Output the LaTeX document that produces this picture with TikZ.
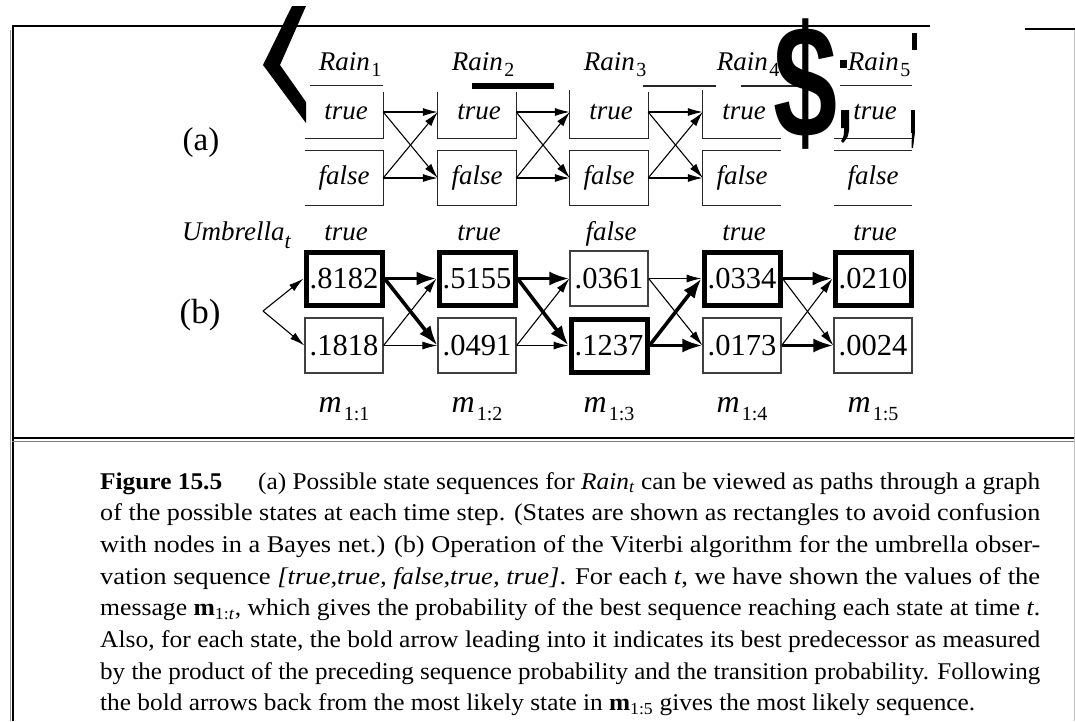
\documentclass[tikz,border=0pt]{standalone}
\usepackage{fontspec}
\setmainfont{Liberation Serif}
\newfontfamily\artfont{Liberation Sans}
\usetikzlibrary{arrows.meta}
\newcommand\lsub[1]{\hspace{1.5pt}\raisebox{-6pt}{\fontsize{20}{20}\selectfont\upshape #1}}
\newcommand\msub[1]{{\fontsize{32}{34}\selectfont\itshape m}\hspace{2pt}\raisebox{-8pt}{\fontsize{20}{20}\selectfont\upshape #1}}
\newcommand\capfont{\fontsize{24}{28}\selectfont}
\tikzset{
  lab/.style={inner sep=0pt, font=\fontsize{27}{30}\selectfont\itshape},
  abox/.style={minimum width=78pt, minimum height=52pt, inner sep=0pt, font=\fontsize{27}{30}\selectfont\itshape},
  aboxf/.style={abox, minimum height=54pt},
  edge/.style={line width=1.1pt, black!85},
  nbox/.style={draw=black!75, line width=1.2pt, minimum width=78pt, minimum height=55pt, inner sep=0pt, font=\fontsize{30.5}{33}\selectfont},
  kbox/.style={nbox, draw=black, line width=5pt, minimum width=76pt, minimum height=53pt},
  tarr/.style={-{Latex[length=15pt,width=8pt]}, line width=1.1pt},
  karr/.style={-{Latex[length=20pt,width=14pt]}, line width=3.6pt},
  capline/.style={anchor=base west, inner sep=0pt, font=\capfont},
}
\begin{document}
\begin{tikzpicture}[x=1pt,y=-1pt]
\useasboundingbox (0,0) rectangle (1075,721);
% frame
\draw[line width=1.8pt] (12,26) -- (930,26);
\draw[line width=1.6pt] (1025,29) -- (1075,29);
\draw[line width=2pt] (13,26) -- (13,721);
\draw[line width=0.8pt, black!40] (10,30) -- (10,721);
\draw[line width=2pt] (12,437.5) -- (1075,437.5);
\draw[line width=1pt, black!50] (12,441.5) -- (1075,441.5);
\draw[line width=1pt, black!25] (1074,30) -- (1074,721);

% row labels
\node[inner sep=0pt, font=\fontsize{33}{36}\selectfont] (la) at (201,143) {(a)};
\node[inner sep=0pt, font=\fontsize{35}{38}\selectfont] (lb) at (200,315) {(b)};

% part (a)
\foreach \i/\c in {1/344,2/477,3/609,4/742,5/873}{
  \node[lab, anchor=base] (r\i) at (\c+6,70) {Rain\lsub{\i}};
  \node[abox] (a\i t) at (\c,112) {\hspace{4pt}true};
  \node[aboxf] (a\i f) at (\c,178) {false};
}
\draw[edge] ([xshift=5pt]a1t.north west) -- (a1t.north east);
\draw[edge] ([yshift=-6pt]a1t.north east) -- (a1t.south east) -- (a1t.south west);
\draw[edge] (a1f.north west) -- (a1f.north east) -- (a1f.south east) -- (a1f.south west);
\draw[edge] ([yshift=-6pt]a2t.north west) -- (a2t.south west) -- (a2t.south east) -- ([yshift=-6pt]a2t.north east);
\draw[edge] (a2f.north west) rectangle (a2f.south east);
\draw[edge] ([yshift=-4pt]a3t.north west) -- (a3t.south west) -- (a3t.south east) -- ([yshift=-6pt]a3t.north east);
\draw[edge] (a3f.north west) rectangle (a3f.south east);
\draw[edge] ([yshift=-4pt]a4t.north west) -- (a4t.south west) -- (a4t.south east);
\draw[edge] (a4f.north east) -- (a4f.north west) -- (a4f.south west) -- (a4f.south east);
\draw[edge] ([xshift=6pt]a5t.north west) -- (a5t.north east);
\draw[edge] (a5t.south west) -- (a5t.south east);
\draw[edge] (a5f.north west) -- (a5f.north east);
\draw[edge] (a5f.south west) -- (a5f.south east);
\draw[edge] (643,86) -- (716,86);
\draw[edge] (741,86) -- (812,86);
\foreach \i/\j in {1/2,2/3,3/4}{
  \draw[tarr] (a\i t.east) -- (a\j t.west);
  \draw[tarr] (a\i t.east) -- (a\j f.west);
  \draw[tarr] (a\i f.east) -- (a\j t.west);
  \draw[tarr] (a\i f.east) -- (a\j f.west);
}

% scan artifacts
\fill (292,6) -- (306,6) -- (280,65) -- (306,102) -- (306,123) -- (263,65) -- cycle;
\fill (472,83) rectangle (554,89);
\node[inner sep=0pt] (dollar) at (806,84) {\scalebox{0.72}[1]{\artfont\bfseries\fontsize{160}{160}\selectfont\$}};
\fill (840,60) rectangle (847,68);
\fill (912,33) rectangle (917,50);
\fill (841,110) -- (849,110) -- (849,130) .. controls (848,137) .. (843,143) -- (841,141) .. controls (844,136) .. (844,128) -- (841,128) -- cycle;
\fill (911,110) rectangle (915,133);
\fill (912,132) -- (915,132) -- (913,148) -- (911.5,148) -- cycle;

% part (b)
\node[lab, anchor=base west] (umb) at (182,240) {Umbrella\raisebox{-8pt}{\fontsize{22}{22}\selectfont t}};
\foreach \i/\c/\o in {1/344/true,2/477/true,3/609/false,4/742/true,5/873/true}{
  \node[lab, anchor=base] (u\i) at (\c+2,240) {\o};
  \node[inner sep=0pt, anchor=base] (m\i) at (\c,412) {\msub{1:\i}};
}
\node[kbox] (b1t) at (344,278.5) {.8182};
\node[nbox] (b1f) at (344,345.5) {.1818};
\node[kbox] (b2t) at (477,278.5) {.5155};
\node[nbox] (b2f) at (477,345.5) {.0491};
\node[nbox] (b3t) at (609,278.5) {.0361};
\node[kbox] (b3f) at (609,345.5) {.1237};
\node[kbox] (b4t) at (742,278.5) {.0334};
\node[nbox] (b4f) at (742,345.5) {.0173};
\node[kbox] (b5t) at (873,278.5) {.0210};
\node[nbox] (b5f) at (873,345.5) {.0024};
\coordinate (fork) at (263,311);
\draw[tarr] (fork) -- (b1t.west);
\draw[tarr] (fork) -- (b1f.west);
% 1 -> 2
\draw[karr] (b1t.east) -- (b2t.west);
\draw[karr] (b1t.east) -- (b2f.west);
\draw[tarr] (b1f.east) -- (b2t.west);
\draw[tarr] (b1f.east) -- (b2f.west);
% 2 -> 3
\draw[karr] (b2t.east) -- (b3t.west);
\draw[karr] (b2t.east) -- (b3f.west);
\draw[tarr] (b2f.east) -- (b3t.west);
\draw[tarr] (b2f.east) -- (b3f.west);
% 3 -> 4
\draw[tarr] (b3t.east) -- (b4t.west);
\draw[tarr] (b3t.east) -- (b4f.west);
\draw[karr] (b3f.east) -- (b4t.west);
\draw[karr] (b3f.east) -- (b4f.west);
% 4 -> 5
\draw[karr] (b4t.east) -- (b5t.west);
\draw[tarr] (b4t.east) -- (b5f.west);
\draw[tarr] (b4f.east) -- (b5t.west);
\draw[karr] (b4f.east) -- (b5f.west);

% caption
\node[capline] (c1) at (100,489) {\resizebox{940pt}{\height}{\textbf{Figure 15.5}\hspace{34pt}(a) Possible state sequences for \textit{Rain}\textsubscript{\textit{t}} can be viewed as paths through a graph}};
\node[capline] (c2) at (100,520.7) {\resizebox{940pt}{\height}{of the possible states at each time step. (States are shown as rectangles to avoid confusion}};
\node[capline] (c3) at (100,552.4) {\resizebox{940pt}{\height}{with nodes in a Bayes net.) (b) Operation of the Viterbi algorithm for the umbrella obser-}};
\node[capline] (c4) at (100,584.1) {\resizebox{940pt}{\height}{vation sequence \textit{[true,true, false,true, true]}. For each \textit{t}, we have shown the values of the}};
\node[capline] (c5) at (100,615.8) {\resizebox{940pt}{\height}{message \textbf{m}\textsubscript{1:\textit{t}}, which gives the probability of the best sequence reaching each state at time \textit{t}.}};
\node[capline] (c6) at (100,647.5) {\resizebox{940pt}{\height}{Also, for each state, the bold arrow leading into it indicates its best predecessor as measured}};
\node[capline] (c7) at (100,679.2) {\resizebox{940pt}{\height}{by the product of the preceding sequence probability and the transition probability. Following}};
\node[capline] (c8) at (100,710.9) {\resizebox{875pt}{\height}{the bold arrows back from the most likely state in \textbf{m}\textsubscript{1:5} gives the most likely sequence.}};
\end{tikzpicture}
\end{document}
